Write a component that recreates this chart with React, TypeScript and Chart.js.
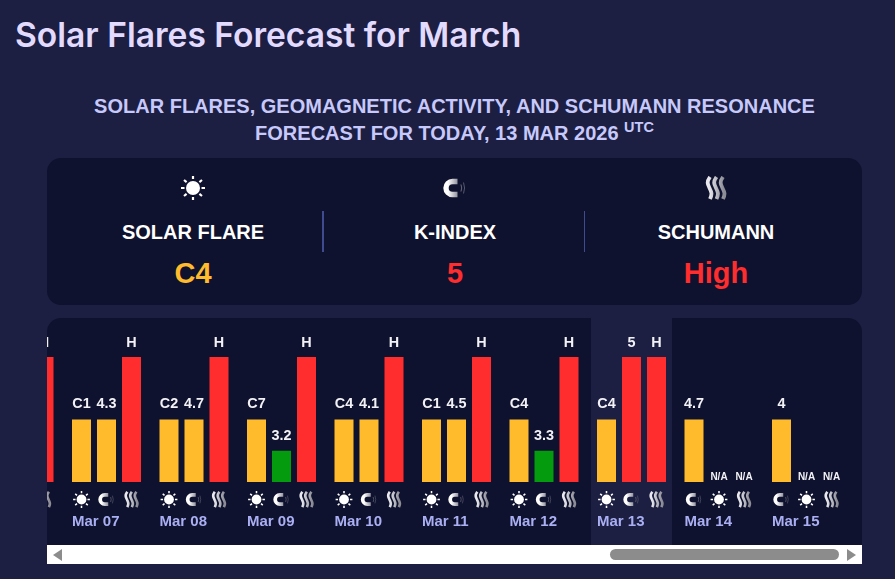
import React, { useEffect, useRef } from 'react';
import { Chart, registerables } from 'chart.js';
import type { Plugin } from 'chart.js';

Chart.register(...registerables);

const FONT = '"Liberation Sans", Arial, sans-serif';
const BG = '#1c1f42';
const PANEL = '#0f122e';
const YELLOW = '#ffbb2b';
const RED = '#ff2d2d';
const GREEN = '#049b0f';

// only the days that are visible in the scrolled strip
const days = ['Mar 06', 'Mar 07', 'Mar 08', 'Mar 09', 'Mar 10', 'Mar 11', 'Mar 12', 'Mar 13', 'Mar 14', 'Mar 15'];
const todayLabel = 'Mar 13';

// bar height tiers: 1 low, 2 medium, 4 high. Mar 06's first two slots are scrolled out of sight.
const firstLevels = [null, 2, 2, 2, 2, 2, 2, 2, 2, 2];
const secondLevels = [null, 2, 2, 1, 2, 2, 1, 4, null, null];
const thirdLevels = [4, 4, 4, 4, 4, 4, 4, 4, null, null];

const firstLabels = ['', 'C1', 'C2', 'C7', 'C4', 'C1', 'C4', 'C4', '4.7', '4'];
const secondLabels = ['', '4.3', '4.7', '3.2', '4.1', '4.5', '3.3', '5', 'N/A', 'N/A'];
const thirdLabels = ['H', 'H', 'H', 'H', 'H', 'H', 'H', 'H', 'N/A', 'N/A'];

const firstIcons = ['sun', 'sun', 'sun', 'sun', 'sun', 'sun', 'sun', 'sun', 'magnet', 'magnet'];
const secondIcons = ['magnet', 'magnet', 'magnet', 'magnet', 'magnet', 'magnet', 'magnet', 'magnet', 'sun', 'sun'];
const thirdIcons = ['waves', 'waves', 'waves', 'waves', 'waves', 'waves', 'waves', 'waves', 'waves', 'waves'];

type IconStroke = { d: string; w: number; cap?: CanvasLineCap };
type IconDef = { from: string; to: string; strokes: IconStroke[] };

// all icons live in a 24x24 box and are made of strokes
const ICONS: Record<string, IconDef> = {
  sun: {
    from: '#ffffff',
    to: '#ffffff',
    strokes: [
      { d: 'M12 12h0.01', w: 14, cap: 'round' },
      { d: 'M12 0v3M12 21v3M0 12h3.5M20.5 12h3.5', w: 2.2, cap: 'butt' },
      { d: 'M3 4l2.6 2.1M21 4l-2.6 2.1M3 20l2.6-2.1M21 20l-2.6-2.1', w: 2.2, cap: 'butt' },
    ],
  },
  magnet: {
    from: '#ffffff',
    to: '#55566a',
    strokes: [
      { d: 'M14.5 5.5H9.5a6.5 6.5 0 0 0 0 13h5', w: 5.4, cap: 'butt' },
      { d: 'M18 8.5q1.4 3.5 0 7', w: 1, cap: 'butt' },
      { d: 'M20.5 6.5q2.2 5.5 0 11', w: 1, cap: 'butt' },
    ],
  },
  waves: {
    from: '#e8e8ee',
    to: '#8c8c96',
    strokes: [
      { d: 'M6 1C2.5 6 3.5 8 5.5 12s3 6 0.5 11', w: 3.8, cap: 'butt' },
      { d: 'M12.5 1C9 6 10 8 12 12s3 6 0.5 11', w: 3.8, cap: 'butt' },
      { d: 'M19 1C15.5 6 16.5 8 18.5 12s3 6 0.5 11', w: 3.8, cap: 'butt' },
    ],
  },
};

const levelColor = (level: number | null) => (level === 4 ? RED : level === 1 ? GREEN : YELLOW);
const labelGap: Record<number, number> = { 1: 11, 2: 12, 4: 10 };

function drawIcon(ctx: CanvasRenderingContext2D, name: string, cx: number, cy: number, scale: number) {
  const icon = ICONS[name];
  ctx.save();
  ctx.translate(cx - 12 * scale, cy - 12 * scale);
  ctx.scale(scale, scale);
  const grad = ctx.createLinearGradient(5, 0, 20, 0);
  grad.addColorStop(0, icon.from);
  grad.addColorStop(1, icon.to);
  ctx.strokeStyle = grad;
  icon.strokes.forEach((s) => {
    ctx.lineWidth = s.w;
    ctx.lineCap = s.cap || 'butt';
    ctx.stroke(new Path2D(s.d));
  });
  ctx.restore();
}

const todayColumn: Plugin<'bar'> = {
  id: 'todayColumn',
  beforeDraw(chart) {
    const x = chart.scales.x.getPixelForValue(days.indexOf(todayLabel));
    chart.ctx.fillStyle = BG;
    chart.ctx.fillRect(x - 40.5, 0, 81, chart.height);
  },
};

const barDecorations: Plugin<'bar'> = {
  id: 'barDecorations',
  afterDatasetsDraw(chart) {
    const { ctx } = chart;
    const base = chart.scales.y.getPixelForValue(0);
    const slots = [
      { labels: firstLabels, icons: firstIcons, levels: firstLevels },
      { labels: secondLabels, icons: secondIcons, levels: secondLevels },
      { labels: thirdLabels, icons: thirdIcons, levels: thirdLevels },
    ];
    slots.forEach((slot, d) => {
      chart.getDatasetMeta(d).data.forEach((bar, i) => {
        const level = slot.levels[i];
        const text = slot.labels[i];
        ctx.save();
        ctx.fillStyle = '#f2f2f6';
        ctx.textAlign = 'center';
        ctx.textBaseline = 'alphabetic';
        if (level === null) {
          ctx.font = `bold 10px ${FONT}`;
          ctx.fillText(text, bar.x, base - 2);
        } else {
          ctx.font = `bold 14.4px ${FONT}`;
          ctx.fillText(text, bar.x, chart.scales.y.getPixelForValue(level) - labelGap[level]);
        }
        ctx.restore();
        drawIcon(ctx, slot.icons[i], bar.x, base + 17.5, 0.7);
      });
    });
  },
};

function TopIcon({ name, cx }: { name: string; cx: number }) {
  const icon = ICONS[name];
  const id = `grad-${name}`;
  return (
    <svg width={24} height={24} viewBox="0 0 24 24" style={{ position: 'absolute', left: cx - 12, top: 176 }}>
      <defs>
        <linearGradient id={id} gradientUnits="userSpaceOnUse" x1={5} y1={0} x2={20} y2={0}>
          <stop offset="0" stopColor={icon.from} />
          <stop offset="1" stopColor={icon.to} />
        </linearGradient>
      </defs>
      {icon.strokes.map((s, i) => (
        <path key={i} d={s.d} fill="none" stroke={`url(#${id})`} strokeWidth={s.w} strokeLinecap={s.cap || 'butt'} />
      ))}
    </svg>
  );
}

function Stat({ cx, icon, title, value, color }: { cx: number; icon: string; title: string; value: string; color: string }) {
  const box: React.CSSProperties = { position: 'absolute', left: cx - 130, width: 260, textAlign: 'center', fontWeight: 700 };
  return (
    <>
      <TopIcon name={icon} cx={cx} />
      <div style={{ ...box, top: 219, lineHeight: '26px', fontSize: 20, color: '#ffffff' }}>{title}</div>
      <div style={{ ...box, top: 255, lineHeight: '36px', fontSize: 29, color }}>{value}</div>
    </>
  );
}

export default function App() {
  const canvasRef = useRef<HTMLCanvasElement>(null);

  useEffect(() => {
    if (!canvasRef.current) return;
    const chart = new Chart(canvasRef.current, {
      type: 'bar',
      data: {
        labels: days,
        datasets: [
          { label: 'Slot 1', data: firstLevels, backgroundColor: firstLevels.map(levelColor) },
          { label: 'Slot 2', data: secondLevels, backgroundColor: secondLevels.map(levelColor) },
          { label: 'Slot 3', data: thirdLevels, backgroundColor: thirdLevels.map(levelColor) },
        ],
      },
      options: {
        responsive: false,
        animation: false,
        layout: { padding: { top: 39, left: 0.25, right: 0.75 } },
        datasets: { bar: { categoryPercentage: 75 / 87.5, barPercentage: 19 / 25 } },
        plugins: { legend: { display: false }, tooltip: { enabled: false } },
        scales: {
          x: {
            grid: { display: false },
            border: { display: false },
            afterFit: (scale) => {
              // keep the slots at full width, the first and last label must not add side padding
              scale.height = 63;
              scale.paddingLeft = 0;
              scale.paddingRight = 0;
            },
            ticks: {
              autoSkip: false,
              maxRotation: 0,
              align: 'start',
              labelOffset: -34.5,
              padding: 23,
              color: '#a9aff2',
              font: { family: FONT, size: 15, weight: 'bold' },
            },
          },
          y: { display: false, min: 0, max: 4 },
        },
      },
      plugins: [todayColumn, barDecorations],
    });
    return () => chart.destroy();
  }, []);

  return (
    <div style={{ position: 'absolute', left: 0, top: 0, width: 895, height: 579, overflow: 'hidden', background: BG, fontFamily: FONT }}>
      <style>{'html,body{margin:0;background:#1c1f42}'}</style>
      <div style={{ position: 'absolute', left: 15, top: 14, fontFamily: 'Inter', fontWeight: 600, fontSize: 33.6, lineHeight: '42px', color: '#e2dbff', whiteSpace: 'nowrap' }}>
        Solar Flares Forecast for March
      </div>
      <div style={{ position: 'absolute', left: 0, width: 909, top: 93, textAlign: 'center', fontWeight: 700, fontSize: 20, lineHeight: '27px', color: '#c8c9fb' }}>
        SOLAR FLARES, GEOMAGNETIC ACTIVITY, AND SCHUMANN RESONANCE
        <br />
        FORECAST FOR TODAY, 13 MAR 2026 <sup style={{ fontSize: 14.5, lineHeight: 0 }}>UTC</sup>
      </div>

      <div style={{ position: 'absolute', left: 47, top: 158, width: 815, height: 147, borderRadius: 14, background: PANEL }} />
      <div style={{ position: 'absolute', left: 322, top: 211, width: 2, height: 41, background: '#3f4a8f' }} />
      <div style={{ position: 'absolute', left: 584, top: 211, width: 1, height: 41, background: '#3f4a8f' }} />
      <Stat cx={193} icon="sun" title="SOLAR FLARE" value="C4" color={YELLOW} />
      <Stat cx={455} icon="magnet" title="K-INDEX" value="5" color={RED} />
      <Stat cx={716} icon="waves" title="SCHUMANN" value="High" color={RED} />

      <div style={{ position: 'absolute', left: 47, top: 318, width: 815, height: 227, overflow: 'hidden', borderRadius: '14px 14px 0 0', background: PANEL }}>
        <canvas ref={canvasRef} width={876} height={227} style={{ position: 'absolute', left: -72, top: 0, display: 'block' }} />
      </div>

      <div style={{ position: 'absolute', left: 47, top: 545, width: 815, height: 19, background: '#ffffff' }}>
        <div style={{ position: 'absolute', left: 6, top: 4, width: 9, height: 12, background: '#8c8c8c', clipPath: 'polygon(100% 0, 100% 100%, 0 50%)' }} />
        <div style={{ position: 'absolute', left: 563, top: 4, width: 229, height: 11, borderRadius: 6, background: '#8c8c8c' }} />
        <div style={{ position: 'absolute', left: 800, top: 4, width: 9, height: 12, background: '#8c8c8c', clipPath: 'polygon(0 0, 100% 50%, 0 100%)' }} />
      </div>
    </div>
  );
}
